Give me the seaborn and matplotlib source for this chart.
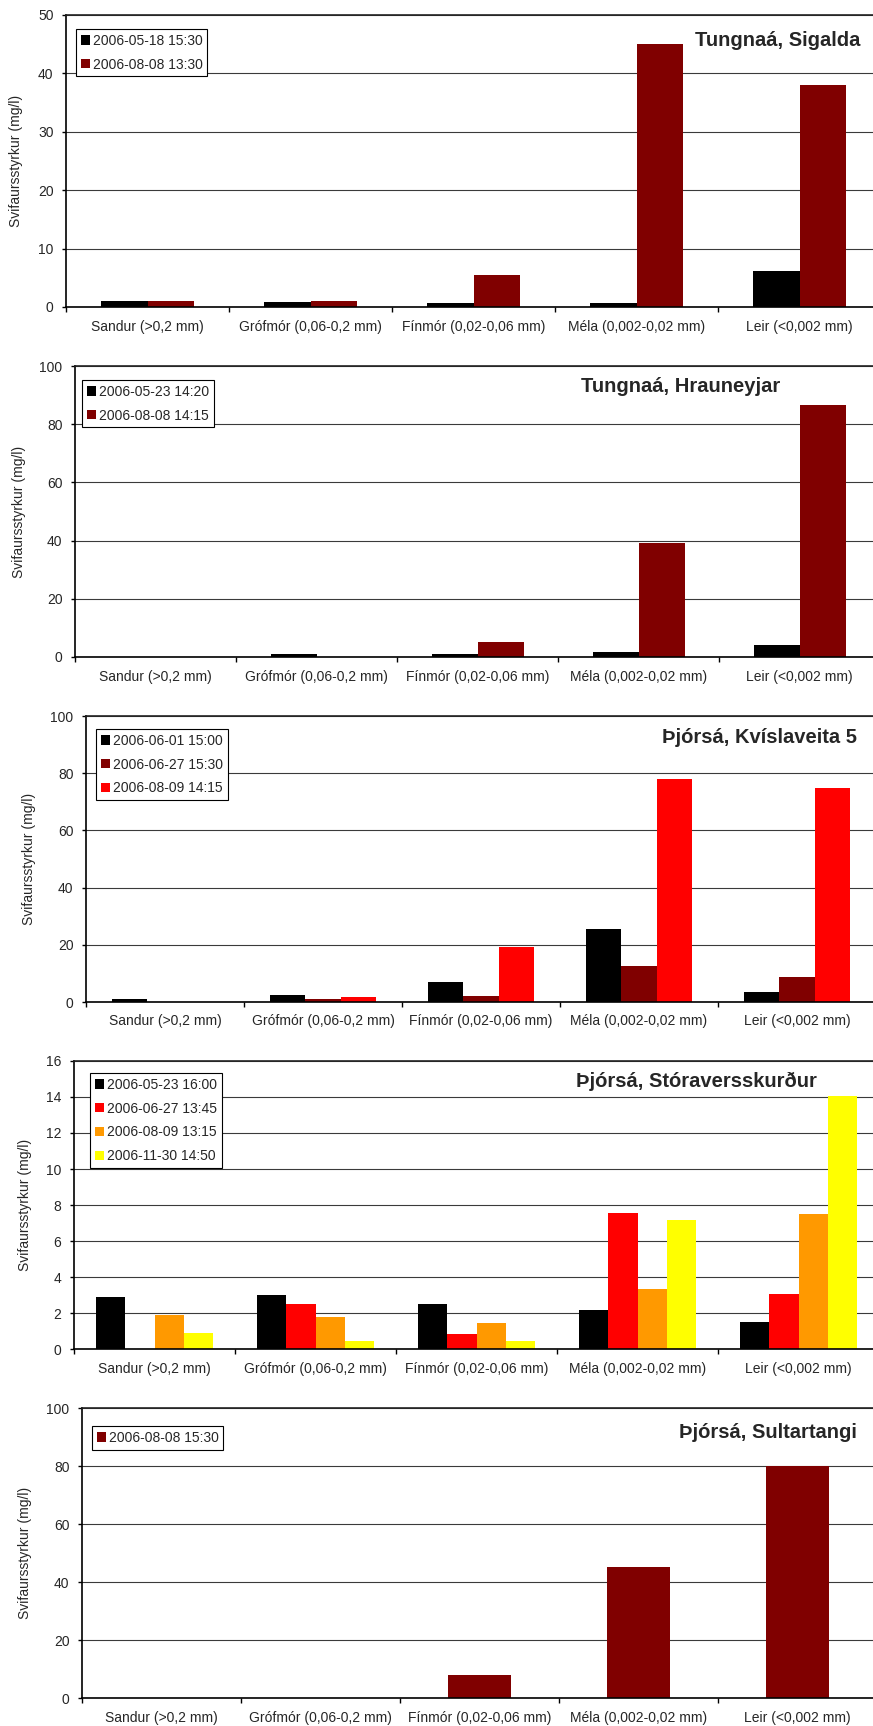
import numpy as np
import pandas as pd
import matplotlib
matplotlib.use("Agg")
import matplotlib.pyplot as plt
import seaborn as sns
from matplotlib.patches import Patch
from matplotlib.ticker import FixedLocator

sns.set_style("white")
plt.rcParams["font.family"] = ["Liberation Sans", "DejaVu Sans"]

# kornastaerdarflokkar
flokkar = ["Sandur (>0,2 mm)", "Grófmór (0,06-0,2 mm)", "Fínmór (0,02-0,06 mm)",
           "Méla (0,002-0,02 mm)", "Leir (<0,002 mm)"]

# Tungnaá, Sigalda
sig_dags = ["2006-05-18 15:30", "2006-08-08 13:30"]
sig_gildi = [[1.0, 0.8, 0.6, 0.6, 6.1],
             [1.0, 1.0, 5.4, 45.0, 38.0]]

# Tungnaá, Hrauneyjar
hra_dags = ["2006-05-23 14:20", "2006-08-08 14:15"]
hra_gildi = [[0.0, 1.1, 1.1, 1.6, 4.2],
             [0.0, 0.0, 5.3, 39.2, 86.5]]

# Þjórsá, Kvíslaveita 5
kvi_dags = ["2006-06-01 15:00", "2006-06-27 15:30", "2006-08-09 14:15"]
kvi_gildi = [[0.9, 2.4, 7.0, 25.4, 3.5],
             [0.0, 1.0, 2.1, 12.6, 8.9],
             [0.0, 1.7, 19.2, 78.0, 74.8]]

# Þjórsá, Stóraversskurður
sto_dags = ["2006-05-23 16:00", "2006-06-27 13:45", "2006-08-09 13:15", "2006-11-30 14:50"]
sto_gildi = [[2.88, 3.01, 2.51, 2.14, 1.48],
             [0.0, 2.51, 0.85, 7.56, 3.07],
             [1.9, 1.79, 1.46, 3.35, 7.5],
             [0.9, 0.46, 0.46, 7.17, 14.07]]

# Þjórsá, Sultartangi
sul_dags = ["2006-08-08 15:30"]
sul_gildi = [[0.0, 0.0, 7.8, 45.2, 80.1]]

panels = [
    ("Tungnaá, Sigalda", sig_dags, sig_gildi, ["#000000", "#800000"], 50, 10),
    ("Tungnaá, Hrauneyjar", hra_dags, hra_gildi, ["#000000", "#800000"], 100, 20),
    ("Þjórsá, Kvíslaveita 5", kvi_dags, kvi_gildi, ["#000000", "#800000", "#FF0000"], 100, 20),
    ("Þjórsá, Stóraversskurður", sto_dags, sto_gildi,
     ["#000000", "#FF0000", "#FF9900", "#FFFF00"], 16, 2),
    ("Þjórsá, Sultartangi", sul_dags, sul_gildi, ["#800000"], 100, 20),
]

# layout in pixels (left, top, right, bottom)
W, H = 873, 1726
ax_px = [(66, 15, 881, 307), (75, 366, 880, 657), (86, 716, 876, 1002),
         (74, 1061, 879, 1349), (82, 1408, 877, 1698)]
leg_px = [(76, 29), (82, 380), (96, 729), (90, 1073), (92, 1426)]
title_px = [(778, 40), (681, 386), (760, 737), (696, 1081), (768, 1432)]
ylab_px = [23, 26, 36, 32, 32]

fig = plt.figure(figsize=(W / 100, H / 100), dpi=100)

for i, (titill, dags, gildi, litir, ymax, skref) in enumerate(panels):
    l, t, r, b = ax_px[i]
    ax = fig.add_axes([l / W, 1 - b / H, (r - l) / W, (b - t) / H])
    df = pd.DataFrame({
        "flokkur": np.tile(flokkar, len(dags)),
        "dags": np.repeat(dags, len(flokkar)),
        "gildi": np.concatenate(gildi),
    })
    n = len(dags)
    sns.barplot(data=df, x="flokkur", y="gildi", hue="dags", order=flokkar,
                hue_order=dags, palette=litir, width=n / (n + 1.5), saturation=1,
                errorbar=None, linewidth=0, legend=False, ax=ax)

    ax.set_xlim(-0.5, 4.5)
    ax.set_ylim(0, ymax)
    ax.set_yticks(np.arange(0, ymax + skref / 2, skref))
    ax.yaxis.grid(True, color="#3a3a3a", lw=0.8)
    ax.set_axisbelow(True)
    ax.set_xlabel("")
    ax.set_ylabel("Svifaursstyrkur (mg/l)", fontsize=10)
    ax.yaxis.set_label_coords((ylab_px[i] - l) / (r - l), 0.5)

    ax.xaxis.set_minor_locator(FixedLocator(np.arange(-0.5, 5, 1)))
    ax.tick_params(axis="x", which="major", length=0, pad=9, labelsize=10, bottom=True)
    ax.tick_params(axis="x", which="minor", length=3.8, width=1, direction="out",
                   color="black", bottom=True)
    ax.tick_params(axis="y", length=3, width=1, direction="out", labelsize=10,
                   pad=6, left=True, color="black")
    for s in ["left", "bottom", "right"]:
        ax.spines[s].set_color("black")
        ax.spines[s].set_linewidth(1.2)
    ax.spines["top"].set_color("#222222")
    ax.spines["top"].set_linewidth(1.2)

    handles = [Patch(facecolor=c, edgecolor="none") for c in litir]
    lx, ly = leg_px[i]
    leg = ax.legend(handles, dags, loc="upper left",
                    bbox_to_anchor=(lx / W, 1 - ly / H), bbox_transform=fig.transFigure,
                    borderaxespad=0, fontsize=10, handlelength=0.65, handleheight=0.65,
                    handletextpad=0.2, labelspacing=0.7, borderpad=0.35,
                    fancybox=False, framealpha=1)
    leg.get_frame().set_edgecolor("black")
    leg.get_frame().set_linewidth(0.8)

    cx, cy = title_px[i]
    fig.text(cx / W, 1 - cy / H, titill, ha="center", va="center",
             fontsize=14.5, fontweight="bold")

plt.savefig("out.png", dpi=100)
